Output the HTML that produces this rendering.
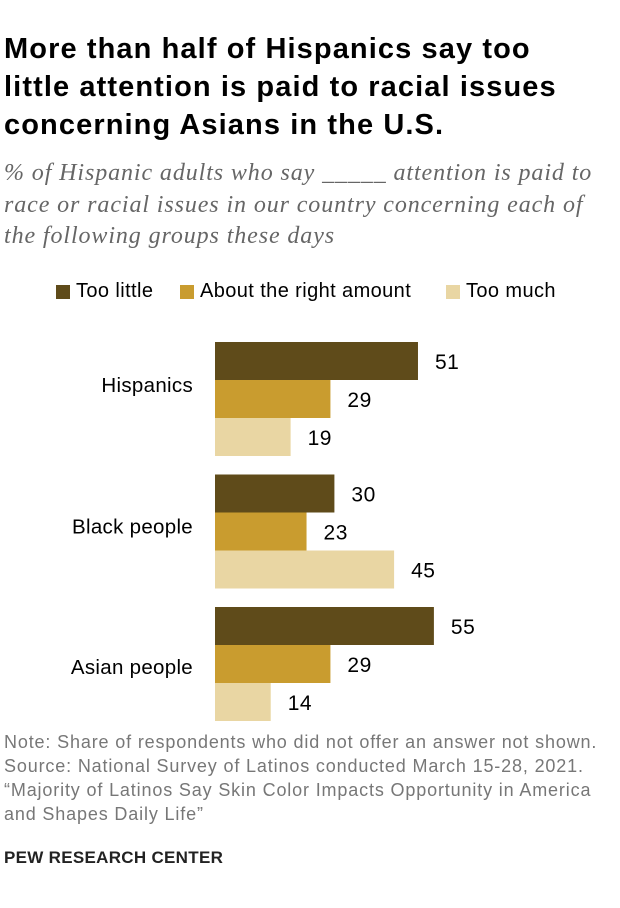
<!DOCTYPE html>
<html><head><meta charset="utf-8"><style>
body{margin:0;background:#fff;font-family:"Liberation Sans",sans-serif;}
#wrap{position:relative;width:620px;height:908px;overflow:hidden;}
.t{position:absolute;left:4px;top:30px;width:610px;font-weight:bold;font-size:29px;letter-spacing:1.1px;line-height:38px;color:#000;white-space:nowrap;}
.s{position:absolute;left:4px;top:158px;width:616px;font-family:"Liberation Serif",serif;font-style:italic;font-size:24px;letter-spacing:0.9px;line-height:31.5px;color:#666;white-space:nowrap;}
.lg{position:absolute;top:280px;font-size:20px;letter-spacing:0.4px;color:#000;display:flex;align-items:center;}
.sw{width:14px;height:14px;margin-right:6px;display:inline-block;}
.n{position:absolute;left:4px;top:730px;font-size:18px;letter-spacing:0.85px;line-height:24px;color:#777;white-space:nowrap;}
.p{position:absolute;left:4px;top:848px;font-size:17px;letter-spacing:0.3px;font-weight:bold;color:#222;}
</style></head><body><div id="wrap">
<div class="t">More than half of Hispanics say too<br>little attention is paid to racial issues<br>concerning Asians in the U.S.</div>
<div class="s">% of Hispanic adults who say _____ attention is paid to<br>race or racial issues in our country concerning each of<br>the following groups these days</div>
<div class="lg" style="left:56px"><span class="sw" style="background:#5f4b1a"></span>Too little</div>
<div class="lg" style="left:180px"><span class="sw" style="background:#c99c2f"></span>About the right amount</div>
<div class="lg" style="left:446px"><span class="sw" style="background:#e9d6a3"></span>Too much</div>
<svg id="plot" width="620" height="908" style="position:absolute;left:0;top:0"></svg>
<div class="n">Note: Share of respondents who did not offer an answer not shown.<br>Source: National Survey of Latinos conducted March 15-28, 2021.<br>“Majority of Latinos Say Skin Color Impacts Opportunity in America<br>and Shapes Daily Life”</div>
<div class="p">PEW RESEARCH CENTER</div>
</div>
<script>
const categories=["Hispanics","Black people","Asian people"];
const tooLittle=[51,30,55];
const aboutRight=[29,23,29];
const tooMuch=[19,45,14];
const series=[tooLittle,aboutRight,tooMuch];
const seriesNames=["too-little","about-right","too-much"];
const colors=["#5f4b1a","#c99c2f","#e9d6a3"];
const labelOffsets=[43,52,60];
const svg=document.getElementById('plot');
const NS="http://www.w3.org/2000/svg";
const x0=215, k=3.98, bh=38, gTop=342, gStep=132.5;
const xs=v=>v*k;
categories.forEach((c,i)=>{
  const top=gTop+i*gStep;
  const lab=document.createElementNS(NS,'text');
  
  
  lab.setAttribute('x',193);lab.setAttribute('y',top+labelOffsets[i]+7);
  lab.setAttribute('text-anchor','end');lab.setAttribute('font-size','20.5');
  lab.setAttribute('letter-spacing','0.3');
  lab.setAttribute('font-family','Liberation Sans, sans-serif');
  lab.textContent=c;svg.appendChild(lab);
  series.forEach((s,j)=>{
    const y=top+j*bh;
    const r=document.createElementNS(NS,'rect');
    
    
    r.setAttribute('x',x0);r.setAttribute('y',y);
    r.setAttribute('width',xs(s[i]));r.setAttribute('height',bh);
    r.setAttribute('fill',colors[j]);svg.appendChild(r);
    const t=document.createElementNS(NS,'text');
    
    
    t.setAttribute('x',x0+xs(s[i])+17);t.setAttribute('y',y+bh/2+8);
    t.setAttribute('font-size','21');
    t.setAttribute('letter-spacing','0.5');
    t.setAttribute('font-family','Liberation Sans, sans-serif');
    t.textContent=s[i];svg.appendChild(t);
  });
});
</script></body></html>
